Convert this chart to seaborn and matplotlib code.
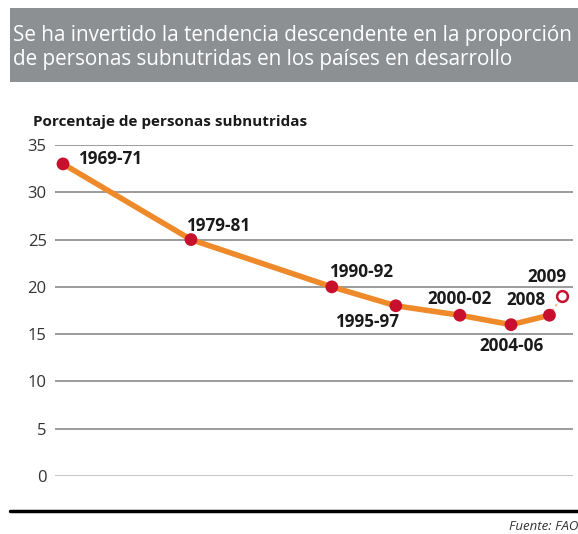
import numpy as np
import pandas as pd
import matplotlib.pyplot as plt
import seaborn as sns
from matplotlib.patches import Rectangle

# data
periods = ['1969-71', '1979-81', '1990-92', '1995-97', '2000-02', '2004-06', '2008', '2009']
years = [1970, 1980, 1991, 1996, 2001, 2005, 2008, 2009]
pct = [33, 25, 20, 18, 17, 16, 17, 19]
yticks = [0, 5, 10, 15, 20, 25, 30, 35]

# label offsets (pixels) and alignment for each point
label_pos = [
    (15, 5, 'left'),
    (-5, 14, 'left'),
    (-3, 15, 'left'),
    (3, -16, 'right'),
    (0, 16, 'center'),
    (0, -21, 'center'),
    (-4, 15, 'right'),
    (4, 19, 'right'),
]

df = pd.DataFrame({'period': periods, 'year': years, 'pct': pct})
observed = df.iloc[:-1]
estimate = df.iloc[-1:]

sns.set_theme(style='white')
plt.rcParams['font.family'] = ['Open Sans', 'DejaVu Sans']

fig = plt.figure(figsize=(5.78, 5.34), dpi=100)
W, H = 578, 534

# title banner
fig.patches.append(Rectangle((10 / W, 1 - 82 / H), 1, 74 / H, transform=fig.transFigure,
                             facecolor='#8d9093', edgecolor='none', zorder=0))
fig.text(13 / W, 1 - 35 / H, 'Se ha invertido la tendencia descendente en la proporción',
         color='white', fontsize=14.9, va='center', ha='left')
fig.text(13 / W, 1 - 60 / H, 'de personas subnutridas en los países en desarrollo',
         color='white', fontsize=14.9, va='center', ha='left')

fig.text(33 / W, 1 - 122 / H, 'Porcentaje de personas subnutridas',
         color='#1a1a1a', fontsize=11, fontweight='bold', va='center', ha='left')

ax = fig.add_axes([55 / W, (H - 476) / H, (573 - 55) / W, (476 - 145) / H])
ax.set_xlim(1969.375, 2009.84)
ax.set_ylim(0, 35)

for v in yticks:
    ax.axhline(v, color='#b5b5b5' if v == 0 else '#808080', lw=1.1, zorder=1)

sns.lineplot(data=observed, x='year', y='pct', ax=ax, color='#ef8a2b', lw=4,
             zorder=2, solid_capstyle='round')
ax.plot(df['year'].iloc[-2:], df['pct'].iloc[-2:], color='#f3b070', lw=1.5,
        ls=':', zorder=2)
sns.scatterplot(data=observed, x='year', y='pct', ax=ax, color='#c8102e', s=85,
                edgecolor='none', zorder=3, clip_on=False)
sns.scatterplot(data=estimate, x='year', y='pct', ax=ax, facecolor='white',
                edgecolor='#c8102e', linewidth=1.8, s=60, zorder=3, clip_on=False)

for (p, x, y), (dx, dy, ha) in zip(zip(periods, years, pct), label_pos):
    ax.annotate(p, (x, y), xytext=(dx, dy), textcoords='offset pixels',
                ha=ha, va='center', fontsize=12.3, fontweight='bold', color='#1a1a1a')

ax.set_yticks(yticks)
ax.set_xticks([])
ax.tick_params(axis='y', length=0, pad=6, labelsize=12, labelcolor='#333333')
ax.set_xlabel('')
ax.set_ylabel('')
sns.despine(ax=ax, left=True, bottom=True)
ax.patch.set_alpha(0)

# bottom rule and source
fig.add_artist(plt.Line2D([10 / W, 1], [1 - 511 / H] * 2, transform=fig.transFigure,
                          color='black', lw=2.5))
fig.text(509 / W, 1 - 527 / H, 'Fuente: FAO', fontsize=9.5, style='italic',
         color='#333333', va='center', ha='left')

fig.savefig('out.png', dpi=100)
